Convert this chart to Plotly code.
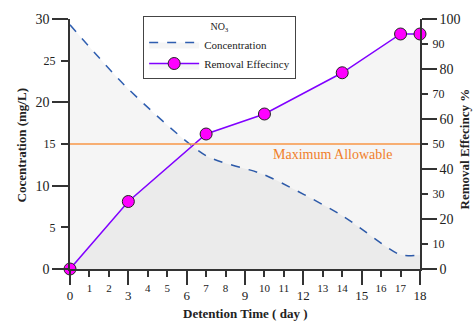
import plotly.graph_objects as go

# ---- data ----
days = [0, 3, 7, 10, 14, 17, 18]
concentration = [29.3, 21.6, 13.6, 11.3, 6.4, 1.7, 1.7]
removal = [0, 27, 54, 62, 78.5, 94, 94]
max_allowable = 15

x_major = [0, 3, 6, 9, 12, 15, 18]
x_minor = [1, 2, 4, 5, 7, 8, 10, 11, 13, 14, 16, 17]
yl_major = [0, 10, 20, 30]
yl_minor = [5, 15, 25]
yr_major = [0, 20, 40, 60, 80, 100]
yr_minor = [10, 30, 50, 70, 90]

FONT = "Liberation Serif, Times New Roman, serif"
AX = "#333333"
TXT = "#222222"

fig = go.Figure()
fig.add_trace(go.Scatter(
    x=days, y=concentration, name="Concentration", mode="lines",
    line=dict(color="#2f5eb0", width=1.5, dash="dash", shape="spline", smoothing=0.7),
    fill="tozeroy", fillcolor="rgba(0,0,0,0.04)", xaxis="x", yaxis="y",
))
fig.add_trace(go.Scatter(
    x=days, y=removal, name="Removal Effecincy", mode="lines+markers",
    line=dict(color="#8000ff", width=1.5),
    marker=dict(symbol="circle", size=12, color="#ff00ff", line=dict(color="#222", width=1)),
    fill="tozeroy", fillcolor="rgba(0,0,0,0.04)", xaxis="x", yaxis="y2", cliponaxis=False,
))
# empty helper traces so the minor-label axes get drawn
for xa, ya in [("x2", "y"), ("x", "y3"), ("x", "y4")]:
    fig.add_trace(go.Scatter(x=[], y=[], xaxis=xa, yaxis=ya, showlegend=False, hoverinfo="skip"))

common = dict(showgrid=False, zeroline=False, ticks="outside", tickwidth=1.5, tickcolor=AX)

fig.update_layout(
    width=473, height=321,
    margin=dict(l=70, r=53, t=14, b=52),
    plot_bgcolor="white", paper_bgcolor="white",
    font=dict(family=FONT, color=TXT, size=12),
    showlegend=True,
    legend=dict(
        x=0.209, y=1.012, xanchor="left", yanchor="top",
        bgcolor="white", bordercolor="#444", borderwidth=1,
        font=dict(family=FONT, size=11, color=TXT),
        title=dict(text="NO<sub>3</sub>", side="top center", font=dict(family=FONT, size=10, color=TXT)),
        tracegroupgap=0, itemwidth=50,
    ),
    xaxis=dict(range=[0, 18], tickvals=x_major, ticklen=14, ticklabelstandoff=0,
               tickfont=dict(family=FONT, size=13, color=TXT),
               showline=True, linecolor=AX, linewidth=1.5, anchor="y", **common),
    xaxis2=dict(range=[0, 18], tickvals=x_minor, ticklen=7, ticklabelstandoff=2,
                tickfont=dict(family=FONT, size=11, color=TXT),
                overlaying="x", anchor="y", side="bottom", showline=False, **common),
    yaxis=dict(range=[0, 30], tickvals=yl_major, ticklen=16, tickfont=dict(family=FONT, size=14, color=TXT),
               showline=True, linecolor=AX, linewidth=1.5, anchor="x", **common),
    yaxis3=dict(range=[0, 30], tickvals=yl_minor, ticklen=8, ticklabelstandoff=3,
                tickfont=dict(family=FONT, size=12, color=TXT),
                overlaying="y", anchor="x", side="left", showline=False, **common),
    yaxis2=dict(range=[0, 100], tickvals=yr_major, ticklen=15, tickfont=dict(family=FONT, size=14, color=TXT),
                overlaying="y", side="right", anchor="x",
                showline=True, linecolor=AX, linewidth=1.5, **common),
    yaxis4=dict(range=[0, 100], tickvals=yr_minor, ticklen=7, ticklabelstandoff=2,
                tickfont=dict(family=FONT, size=12, color=TXT),
                overlaying="y", side="right", anchor="x", showline=False, **common),
)

# maximum allowable line
fig.add_shape(type="line", xref="x domain", yref="y", x0=0, x1=1, y0=max_allowable, y1=max_allowable,
              line=dict(color="#f79646", width=1.5), layer="above")
fig.add_annotation(x=13.5, y=max_allowable, xref="x", yref="y", text="Maximum Allowable",
                   showarrow=False, yanchor="top", yshift=-1,
                   font=dict(family=FONT, size=14, color="#f07f2a"))

# axis overhangs
fig.add_shape(type="line", xref="x", yref="y", xsizemode="pixel", xanchor=0,
              x0=-17, x1=0, y0=0, y1=0, line=dict(color=AX, width=1.5))
fig.add_shape(type="line", xref="x", yref="y", ysizemode="pixel", yanchor=0,
              x0=0, x1=0, y0=-14, y1=0, line=dict(color=AX, width=1.5))
fig.add_shape(type="line", xref="x", yref="y", ysizemode="pixel", yanchor=0,
              x0=18, x1=18, y0=-14, y1=0, line=dict(color=AX, width=1.5))

# axis titles
fig.add_annotation(x=(21 - 70) / 350, y=(269 - 143) / 255, xref="paper", yref="paper",
                   xanchor="center", yanchor="middle",
                   text="<b>Cocentration (mg/L)</b>", showarrow=False, textangle=-90,
                   font=dict(family=FONT, size=13, color=TXT))
fig.add_annotation(x=(464 - 70) / 350, y=(269 - 147) / 255, xref="paper", yref="paper",
                   xanchor="center", yanchor="middle",
                   text="<b>Removal Effecincy %</b>", showarrow=False, textangle=-90,
                   font=dict(family=FONT, size=13, color=TXT))
fig.add_annotation(x=(245 - 70) / 350, y=(269 - 314) / 255, xref="paper", yref="paper",
                   xanchor="center", yanchor="middle",
                   text="<b>Detention Time ( day )</b>", showarrow=False,
                   font=dict(family=FONT, size=13, color=TXT))

fig.write_html("out.html")
